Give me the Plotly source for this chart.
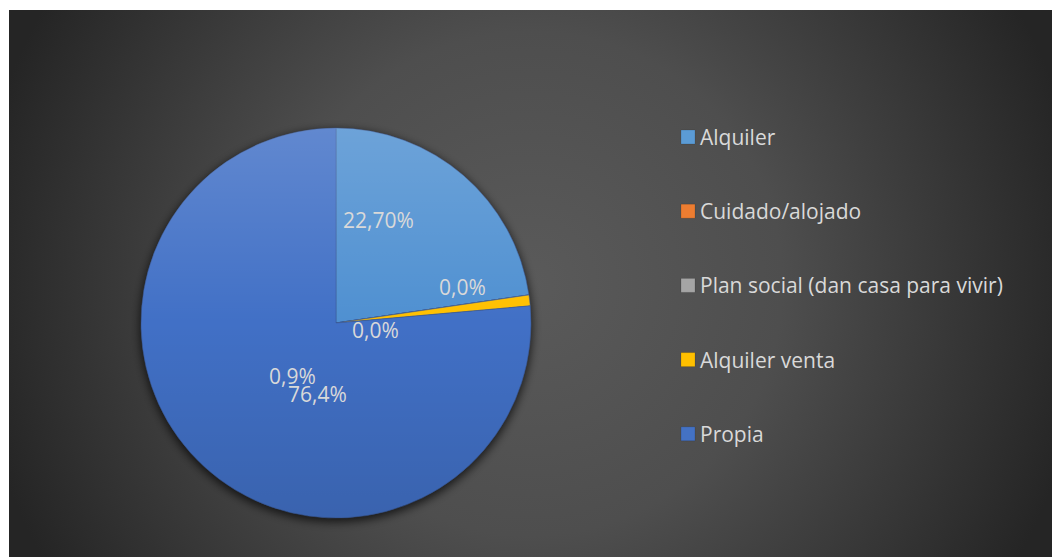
import base64
import plotly.graph_objects as go

# data
categories = ["Alquiler", "Cuidado/alojado", "Plan social (dan casa para vivir)",
              "Alquiler venta", "Propia"]
values = [22.7, 0.0, 0.0, 0.9, 76.4]
data_labels = ["22,70%", "0,0%", "0,0%", "0,9%", "76,4%"]

# styling
slice_colors = ["#4f90d1", "#ed7d31", "#a5a5a5", "#ffc000", "#4170c6"]
legend_colors = ["#5b9bd5", "#ed7d31", "#a5a5a5", "#ffc000", "#4472c4"]
text_color = "#d9d9d9"
font_family = "Open Sans, Lato, sans-serif"
font_size = 21

W, H = 1052, 557
area_x0, area_y0 = 9, 10          # top-left of the dark chart area (px)
pie_cx, pie_cy, pie_r = 336, 323, 195
# label centre points (px), where the original puts them
label_pos = [(378, 220), (462, 287), (375, 330), (292, 376), (317, 394)]

px = lambda x: x / W
py = lambda y: 1 - y / H

aw, ah = W - area_x0, H - area_y0
cx, cy = pie_cx - area_x0, pie_cy - area_y0

bg_svg = f"""<svg xmlns='http://www.w3.org/2000/svg' width='{aw}' height='{ah}' viewBox='0 0 {aw} {ah}' preserveAspectRatio='none'>
<defs>
<radialGradient id='g' gradientUnits='userSpaceOnUse' cx='{aw/2}' cy='{ah/2}' r='560'>
<stop offset='0' stop-color='#5a5a5a'/><stop offset='0.45' stop-color='#4e4e4e'/><stop offset='1' stop-color='#252525'/>
</radialGradient>
<filter id='b' x='-20%' y='-20%' width='140%' height='140%'><feGaussianBlur stdDeviation='5'/></filter>
</defs>
<rect width='{aw}' height='{ah}' fill='url(#g)'/>
<circle cx='{cx}' cy='{cy + 3}' r='{pie_r + 1}' fill='black' fill-opacity='0.7' filter='url(#b)'/>
</svg>"""

shade_svg = f"""<svg xmlns='http://www.w3.org/2000/svg' width='{aw}' height='{ah}' viewBox='0 0 {aw} {ah}' preserveAspectRatio='none'>
<defs>
<linearGradient id='s' x1='0' y1='0' x2='0' y2='1'>
<stop offset='0' stop-color='white' stop-opacity='0.17'/><stop offset='0.5' stop-color='white' stop-opacity='0'/>
<stop offset='0.5' stop-color='black' stop-opacity='0'/><stop offset='1' stop-color='black' stop-opacity='0.12'/>
</linearGradient>
</defs>
<circle cx='{cx}' cy='{cy}' r='{pie_r}' fill='url(#s)'/>
</svg>"""


def svg_uri(s):
    return "data:image/svg+xml;base64," + base64.b64encode(s.encode()).decode()


fig = go.Figure()

fig.add_trace(go.Pie(
    labels=categories,
    values=values,
    sort=False,
    direction="clockwise",
    rotation=0,
    textinfo="none",
    hoverinfo="label+percent",
    marker=dict(colors=slice_colors, line=dict(color="rgba(60,90,150,0.7)", width=0.8)),
    domain=dict(x=[px(pie_cx - pie_r), px(pie_cx + pie_r)],
                y=[py(pie_cy + pie_r), py(pie_cy - pie_r)]),
    showlegend=False,
))

img_common = dict(xref="paper", yref="paper", x=px(area_x0), y=py(area_y0),
                  sizex=aw / W, sizey=ah / H, xanchor="left", yanchor="top",
                  sizing="stretch")

annotations = []
for (lx, ly), txt in zip(label_pos, data_labels):
    annotations.append(dict(x=px(lx), y=py(ly), xref="paper", yref="paper",
                            xanchor="center", yanchor="middle",
                            text=txt, showarrow=False,
                            font=dict(family=font_family, size=font_size, color=text_color)))

# legend drawn by hand so the item spacing matches the original
shapes = []
leg_x, leg_y0, leg_step, sq = 681, 137, 74.2, 14
for i, (name, col) in enumerate(zip(categories, legend_colors)):
    yc = leg_y0 + i * leg_step
    shapes.append(dict(type="rect", xref="paper", yref="paper",
                       x0=px(leg_x), x1=px(leg_x + sq),
                       y0=py(yc + sq / 2), y1=py(yc - sq / 2),
                       fillcolor=col, line=dict(color="rgba(0,0,0,0.25)", width=0.5)))
    annotations.append(dict(x=px(leg_x + sq + 3), y=py(yc), xref="paper", yref="paper",
                            text=name, showarrow=False, xanchor="left", yanchor="middle",
                            font=dict(family=font_family, size=font_size, color=text_color)))

fig.update_layout(
    width=W, height=H,
    margin=dict(l=0, r=0, t=0, b=0),
    paper_bgcolor="white",
    plot_bgcolor="white",
    images=[dict(source=svg_uri(bg_svg), layer="below", **img_common),
            dict(source=svg_uri(shade_svg), layer="above", **img_common)],
    shapes=shapes,
    annotations=annotations,
)

fig.write_html("out.html", config={"displayModeBar": False},
               post_script="document.body.style.margin='0';")
